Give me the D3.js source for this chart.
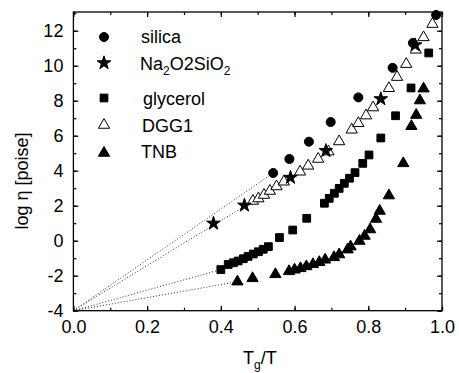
<!DOCTYPE html>
<html><head><meta charset="utf-8">
<script src="https://cdn.jsdelivr.net/npm/d3@7"></script>
<style>body{margin:0;background:#fff;} svg{display:block;} text{font-family:Arial,"Liberation Sans",sans-serif;fill:#000;}</style>
</head><body>
<svg id="c" width="459" height="373"></svg>
<script>
// ---- data (x = Tg/T, y = log eta) ----
const silicaX = [0.542,0.586,0.639,0.698,0.773,0.866,0.921,0.984];
const silicaY = [3.87,4.67,5.66,6.78,8.19,9.88,11.30,12.90];
const naX = [0.380,0.464,0.589,0.685,0.834,0.927];
const naY = [0.99,2.02,3.61,5.14,8.10,11.18];
const glyX = [0.400,0.420,0.434,0.447,0.461,0.474,0.488,0.502,0.515,0.529,0.559,0.595,0.633,0.681,0.694,0.708,0.721,0.735,0.749,0.764,0.785,0.802,0.834,0.874,0.916,0.964];
const glyY = [-1.65,-1.36,-1.26,-1.16,-1.03,-0.90,-0.76,-0.63,-0.49,-0.34,0.18,0.61,1.28,2.14,2.42,2.71,2.99,3.28,3.57,3.89,4.42,4.90,5.87,7.14,8.73,10.73];
const dggX = [0.487,0.502,0.517,0.533,0.551,0.571,0.615,0.637,0.664,0.692,0.721,0.755,0.773,0.794,0.813,0.856,0.878,0.903,0.929,0.950,0.974];
const dggY = [2.27,2.41,2.61,2.84,3.10,3.37,3.94,4.28,4.67,5.09,5.67,6.34,6.71,7.15,7.61,8.71,9.35,10.09,10.91,11.62,12.38];
const tnbX = [0.445,0.486,0.548,0.585,0.600,0.616,0.632,0.650,0.667,0.683,0.707,0.721,0.744,0.752,0.776,0.790,0.805,0.821,0.831,0.856,0.895,0.917,0.930,0.940,0.950];
const tnbY = [-2.34,-2.15,-1.92,-1.75,-1.66,-1.58,-1.47,-1.35,-1.23,-1.09,-0.95,-0.79,-0.51,-0.34,-0.02,0.27,0.64,1.24,1.70,2.58,4.42,6.54,7.18,8.01,8.69];
const xTicks = [0.0,0.2,0.4,0.6,0.8,1.0];
const xTickLabels = ["0.0","0.2","0.4","0.6","0.8","1.0"];
const yTicks = [-4,-2,0,2,4,6,8,10,12];
const yTickLabels = ["-4","-2","0","2","4","6","8","10","12"];
const origin = [0,-4];

const svg = d3.select("#c");
const L=73.4, R=442, T=12, B=310.7;
const x = d3.scaleLinear().domain([0,1]).range([L,R]);
const y = d3.scaleLinear().domain([-4,13.07]).range([B,T]);

// dotted lines from origin to first point of series
const lineStarts = [[silicaX[0],silicaY[0]],[dggX[0],dggY[0]],[glyX[0],glyY[0]],[tnbX[0],tnbY[0]]];
lineStarts.forEach(p=>{
  svg.append("line").attr("x1",x(origin[0])).attr("y1",y(origin[1]))
    .attr("x2",x(p[0])).attr("y2",y(p[1]))
    .attr("stroke","#333").attr("stroke-width",1).attr("stroke-dasharray","1,2");
});

// axes
const minorX = d3.range(0,1.001,0.1);
const minorY = d3.range(-4,13.01,1);
svg.append("g").attr("transform",`translate(0,${B})`)
  .call(d3.axisBottom(x).tickValues(minorX).tickSize(-3).tickFormat(""));
svg.append("g").attr("transform",`translate(0,${B})`)
  .call(d3.axisBottom(x).tickValues(xTicks).tickSize(-5).tickFormat((d,i)=>xTickLabels[i]).tickPadding(10));
svg.append("g").attr("transform",`translate(0,${T})`)
  .call(d3.axisTop(x).tickValues(minorX).tickSize(-3).tickFormat(""));
svg.append("g").attr("transform",`translate(0,${T})`)
  .call(d3.axisTop(x).tickValues(xTicks).tickSize(-5).tickFormat(""));
svg.append("g").attr("transform",`translate(${L},0)`)
  .call(d3.axisLeft(y).tickValues(minorY).tickSize(-3).tickFormat(""));
svg.append("g").attr("transform",`translate(${L},0)`)
  .call(d3.axisLeft(y).tickValues(yTicks).tickSize(-5).tickFormat((d,i)=>yTickLabels[i]).tickPadding(10));
svg.append("g").attr("transform",`translate(${R},0)`)
  .call(d3.axisRight(y).tickValues(minorY).tickSize(-3).tickFormat(""));
svg.append("g").attr("transform",`translate(${R},0)`)
  .call(d3.axisRight(y).tickValues(yTicks).tickSize(-5).tickFormat(""));
svg.selectAll(".domain").remove();
svg.selectAll(".tick line").attr("stroke","#000").attr("stroke-width",1.2);
svg.selectAll(".tick text").style("font-size","18px").style("font-family","Arial, 'Liberation Sans', sans-serif").attr("fill","#000");
svg.append("rect").attr("x",L).attr("y",T).attr("width",R-L).attr("height",B-T)
  .attr("fill","none").attr("stroke","#000").attr("stroke-width",1.3);

// markers
function pts(X,Y){return X.map((v,i)=>[v,Y[i]]);}
function draw(data,type,size,fill){
  svg.append("g").selectAll("path").data(data).join("path")
    .attr("transform",d=>`translate(${x(d[0])},${y(d[1])})`)
    .attr("d",d3.symbol().type(type).size(size))
    .attr("fill",fill).attr("stroke","#000").attr("stroke-width",1);
}
draw(pts(dggX,dggY),d3.symbolTriangle,55,"#fff");
draw(pts(glyX,glyY),d3.symbolSquare,60,"#000");
draw(pts(tnbX,tnbY),d3.symbolTriangle,55,"#000");
draw(pts(silicaX,silicaY),d3.symbolCircle,64,"#000");
draw(pts(naX,naY),d3.symbolStar,58,"#000");

// legend
const legSym = [d3.symbolCircle,d3.symbolStar,d3.symbolSquare,d3.symbolTriangle,d3.symbolTriangle];
const legSize = [64,58,60,55,55];
const legFill = ["#000","#000","#000","#fff","#000"];
const legY = [37,63,98,125,153];
const legTextX = [141,140,143,142,141];
const legBase = [43,70,105,131.5,158];
legSym.forEach((s,i)=>{
  svg.append("path").attr("transform",`translate(104,${legY[i]})`)
    .attr("d",d3.symbol().type(s).size(legSize[i]))
    .attr("fill",legFill[i]).attr("stroke","#000").attr("stroke-width",1);
});
const legLabels = [[["silica",0]],[["Na",0],["2",1],["O2SiO",0],["2",1]],[["glycerol",0]],[["DGG1",0]],[["TNB",0]]];
legLabels.forEach((parts,i)=>{
  const t = svg.append("text").attr("x",legTextX[i]).attr("y",legBase[i]).style("font-size","18px");
  let prevSub=false;
  parts.forEach(p=>{
    const ts=t.append("tspan").text(p[0]);
    if(p[1]){ts.style("font-size","12px").attr("dy",prevSub?0:5); prevSub=true;}
    else {if(prevSub) ts.attr("dy",-5); prevSub=false;}
  });
});

// axis titles
const xt = svg.append("text").attr("x",243).attr("y",364).style("font-size","18px");
xt.append("tspan").text("T");
xt.append("tspan").text("g").style("font-size","12px").attr("dy",5);
xt.append("tspan").text("/T").attr("dy",-5);
svg.append("text").attr("transform","translate(28,181) rotate(-90)").attr("text-anchor","middle")
  .style("font-size","18px").text("log η [poise]");
</script>
</body></html>
